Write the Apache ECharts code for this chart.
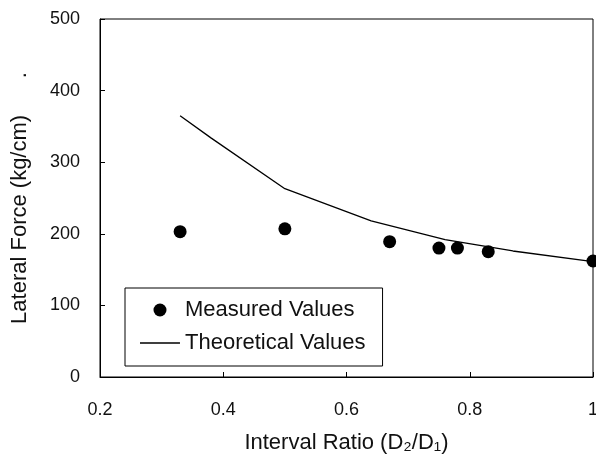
<!DOCTYPE html>
<html>
<head>
<meta charset="utf-8">
<script src="https://cdn.jsdelivr.net/npm/echarts@6/dist/echarts.min.js"></script>
<style>
  html, body { margin: 0; padding: 0; background: #fff; }
  #chart { width: 596px; height: 461px; }
</style>
</head>
<body>
<div id="chart"></div>
<script>
// measured points
const measuredX = [0.33, 0.5, 0.67, 0.75, 0.78, 0.83, 1.0];
const measuredY = [203, 207, 189, 180, 180, 175, 162];
// theoretical curve
const theoryX = [0.33, 0.38, 0.5, 0.64, 0.76, 0.87, 1.0];
const theoryY = [365, 334, 263, 218, 192, 176, 161];

const xTicks = [0.2, 0.4, 0.6, 0.8, 1];
const yTicks = [0, 100, 200, 300, 400, 500];

const font = "'Liberation Sans', Arial, sans-serif";
// thin horizontal bar for the line legend icon
const lineIcon = "path://M0,0H40V0.01H0Z M0,5.8H40V7.2H0Z M0,13H40V13.01H0Z";

const myChart = echarts.init(document.getElementById("chart"));

const option = {
  animation: false,
  backgroundColor: "#fff",
  grid: {
    left: 100,
    right: 3,
    top: 19,
    bottom: 84,
    outerBoundsMode: "none",
    show: true,
    borderColor: "#000",
    borderWidth: 1,
  },
  legend: {
    orient: "vertical",
    left: 125,
    top: 288,
    padding: [11, 17, 12, 15],
    itemGap: 11,
    itemWidth: 40,
    itemHeight: 13,
    borderColor: "#000",
    borderWidth: 1,
    backgroundColor: "#fff",
    textStyle: { fontFamily: font, fontSize: 22, color: "#111" },
    data: [
      { name: "Measured Values", icon: "circle" },
      { name: "Theoretical Values", icon: lineIcon },
    ],
  },
  xAxis: {
    type: "value",
    min: 0.2,
    max: 1,
    interval: 0.2,
    name: "Interval Ratio (D\u2082/D\u2081)",
    nameLocation: "middle",
    nameGap: 55,
    nameTextStyle: { fontFamily: font, fontSize: 22, color: "#111" },
    axisLine: { show: true, lineStyle: { color: "#000", width: 1 } },
    axisTick: { show: true, inside: true, length: 5, lineStyle: { color: "#000" } },
    splitLine: { show: false },
    axisLabel: {
      fontFamily: font,
      fontSize: 18,
      color: "#111",
      margin: 24,
      formatter: (v) => {
        const t = xTicks.find((k) => Math.abs(k - v) < 1e-6);
        return t === undefined ? "" : String(t);
      },
    },
  },
  yAxis: {
    type: "value",
    min: 0,
    max: 500,
    interval: 100,
    name: "Lateral Force (kg/cm)      .",
    nameLocation: "middle",
    nameGap: 69,
    nameTextStyle: { fontFamily: font, fontSize: 22, color: "#111" },
    axisLine: { show: true, lineStyle: { color: "#000", width: 1 } },
    axisTick: { show: true, inside: true, length: 5, lineStyle: { color: "#000" } },
    splitLine: { show: false },
    axisLabel: {
      fontFamily: font,
      fontSize: 18,
      color: "#111",
      margin: 20,
      formatter: (v) => (yTicks.includes(v) ? String(v) : ""),
    },
  },
  series: [
    {
      name: "Measured Values",
      type: "scatter",
      symbol: "circle",
      symbolSize: 13,
      clip: false,
      itemStyle: { color: "#000", opacity: 1 },
      data: measuredX.map((x, i) => [x, measuredY[i]]),
    },
    {
      name: "Theoretical Values",
      type: "line",
      symbol: "none",
      showSymbol: false,
      lineStyle: { color: "#000", width: 1.3 },
      itemStyle: { color: "#000" },
      data: theoryX.map((x, i) => [x, theoryY[i]]),
    },
  ],
};

myChart.setOption(option);
</script>
</body>
</html>
